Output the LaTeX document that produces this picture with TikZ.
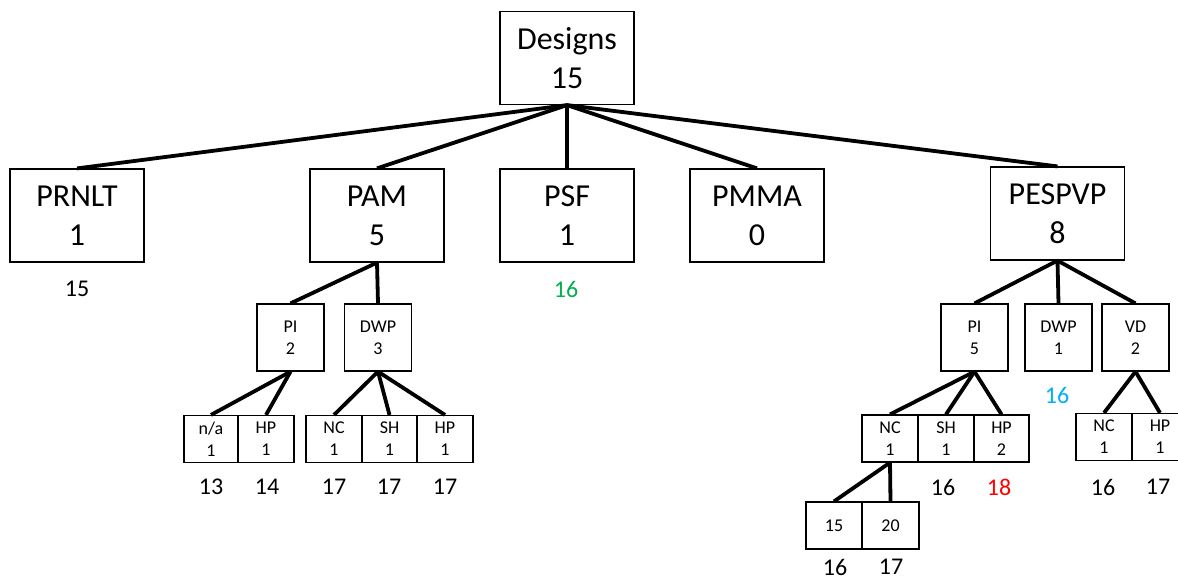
\documentclass[tikz,border=0pt]{standalone}
\usepackage{fontspec}
\setmainfont{Carlito}
\definecolor{lblgreen}{HTML}{00B050}
\definecolor{lblcyan}{HTML}{00B0F0}
\definecolor{lblred}{HTML}{FF0000}
\begin{document}
\begin{tikzpicture}[x=1pt,y=-1pt,
  bigbox/.style={draw, line width=1.2pt, minimum width=134pt, minimum height=93pt, inner sep=0pt, align=center, font=\fontsize{32}{39}\selectfont},
  midbox/.style={draw, line width=1.2pt, minimum width=67pt, minimum height=67pt, inner sep=0pt, align=center, font=\fontsize{18}{22}\selectfont},
  leafbox/.style={draw, line width=1.2pt, minimum width=56pt, minimum height=47pt, inner sep=0pt, align=center, font=\fontsize{18}{22}\selectfont},
  conn/.style={line width=3.8pt},
  lbl/.style={font=\fontsize{24}{29}\selectfont, inner sep=0pt}]
\useasboundingbox (0,0) rectangle (1178,581);
\clip (0,0) rectangle (1178,581);
% level 0
\node[bigbox] (designs) at (567,58) {Designs\\15};
% level 1
\node[bigbox] (prnlt) at (77,215.5) {PRNLT\\1};
\node[bigbox] (pam) at (377,215.5) {PAM\\5};
\node[bigbox] (psf) at (567,215.5) {PSF\\1};
\node[bigbox] (pmma) at (757,215.5) {PMMA\\0};
\node[bigbox] (pespvp) at (1057.5,213.5) {PESPVP\\8};
% level 2
\node[midbox] (pam-pi) at (290.5,337.5) {PI\\2};
\node[midbox] (pam-dwp) at (378,337.5) {DWP\\3};
\node[midbox] (pe-pi) at (974.5,337.5) {PI\\5};
\node[midbox] (pe-dwp) at (1058.5,337.5) {DWP\\1};
\node[midbox] (pe-vd) at (1135.5,337.5) {VD\\2};
% level 3
\node[leafbox, minimum width=54pt] (na) at (211,439) {n/a\\1};
\node[leafbox] (pam-hp1) at (266,439) {HP\\1};
\node[leafbox] (pam-nc) at (334,439) {NC\\1};
\node[leafbox, minimum width=55pt] (pam-sh) at (389.5,439) {SH\\1};
\node[leafbox] (pam-hp2) at (445,439) {HP\\1};
\node[leafbox] (pe-nc) at (890,438.5) {NC\\1};
\node[leafbox] (pe-sh) at (946,438.5) {SH\\1};
\node[leafbox, minimum width=55pt] (pe-hp) at (1001.5,438.5) {HP\\2};
\node[leafbox] (vd-nc) at (1104,437) {NC\\1};
\node[leafbox] (vd-hp) at (1160,437) {HP\\1};
% level 4
\node[leafbox] (n15) at (834,525.5) {15};
\node[leafbox, minimum width=57pt] (n20) at (890.5,525.5) {20};
% connectors
\foreach \c in {prnlt,pam,psf,pmma,pespvp} \draw[conn] (designs.south) -- (\c.north);
\foreach \c in {pam-pi,pam-dwp} \draw[conn] (pam.south) -- (\c.north);
\foreach \c in {pe-pi,pe-dwp,pe-vd} \draw[conn] (pespvp.south) -- (\c.north);
\foreach \c in {na,pam-hp1} \draw[conn] (pam-pi.south) -- (\c.north);
\foreach \c in {pam-nc,pam-sh,pam-hp2} \draw[conn] (pam-dwp.south) -- (\c.north);
\foreach \c in {pe-nc,pe-sh,pe-hp} \draw[conn] (pe-pi.south) -- (\c.north);
\foreach \c in {vd-nc,vd-hp} \draw[conn] (pe-vd.south) -- (\c.north);
\foreach \c in {n15,n20} \draw[conn] (pe-nc.south) -- (\c.north);
% labels
\node[lbl] (l-prnlt) at (77,289) {15};
\node[lbl, text=lblgreen] (l-psf) at (566,289) {16};
\node[lbl, text=lblcyan] (l-pedwp) at (1057,395) {16};
\node[lbl] (l-na) at (211,487) {13};
\node[lbl] (l-hp1) at (267,487) {14};
\node[lbl] (l-nc) at (334,487) {17};
\node[lbl] (l-sh) at (389,487) {17};
\node[lbl] (l-hp2) at (445,487) {17};
\node[lbl] (l-pesh) at (943,487) {16};
\node[lbl, text=lblred] (l-pehp) at (999,487) {18};
\node[lbl] (l-vdnc) at (1103,487) {16};
\node[lbl] (l-vdhp) at (1158,487) {17};
\node[lbl] (l-15) at (835,567) {16};
\node[lbl] (l-20) at (891,567) {17};
\end{tikzpicture}
\end{document}
